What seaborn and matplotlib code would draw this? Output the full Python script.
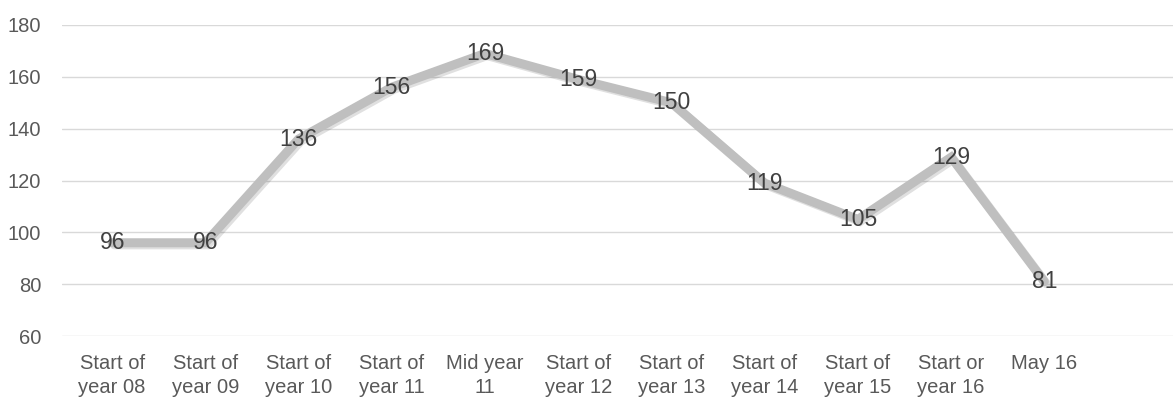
import matplotlib
matplotlib.use("Agg")
import matplotlib.pyplot as plt
import matplotlib.patheffects as pe
import seaborn as sns
import pandas as pd

# data
categories = ["Start of\nyear 08", "Start of\nyear 09", "Start of\nyear 10", "Start of\nyear 11",
              "Mid year\n11", "Start of\nyear 12", "Start of\nyear 13", "Start of\nyear 14",
              "Start of\nyear 15", "Start or\nyear 16", "May 16"]
values = [96, 96, 136, 156, 169, 159, 150, 119, 105, 129, 81]
y_ticks = [60, 80, 100, 120, 140, 160, 180]

sns.set_style("white")
plt.rcParams['font.family'] = ['Liberation Sans', 'DejaVu Sans']

df = pd.DataFrame({"pos": range(len(categories)), "value": values})

fig = plt.figure(figsize=(11.73, 4.03), dpi=100)
ax = fig.add_axes([0.053, 0.166, 0.947, 0.772])

sns.lineplot(data=df, x="pos", y="value", ax=ax, color="#BFBFBF", linewidth=6.5,
             solid_joinstyle="miter", zorder=3,
             path_effects=[pe.SimpleLineShadow(offset=(1.5, -1.5), alpha=0.12, shadow_color="black"),
                           pe.Normal()])

for i, v in enumerate(values):
    ax.text(i, v, str(v), ha="center", va="center", fontsize=16.5, color="#404040", zorder=4)

ax.set_ylim(60, 180)
ax.set_xlim(-0.536, 11.38)
ax.set_yticks(y_ticks)
ax.set_xticks(range(len(categories)))
ax.set_xticklabels(categories, va="top", linespacing=1.3)
ax.tick_params(axis="both", labelsize=14.5, colors="#595959", length=0)
ax.tick_params(axis="y", pad=15)
ax.tick_params(axis="x", pad=13)
ax.grid(axis="y", color="#D9D9D9", linewidth=1)
ax.set_xlabel("")
ax.set_ylabel("")
for s in ax.spines.values():
    s.set_visible(False)

fig.savefig("out.png", dpi=100)
